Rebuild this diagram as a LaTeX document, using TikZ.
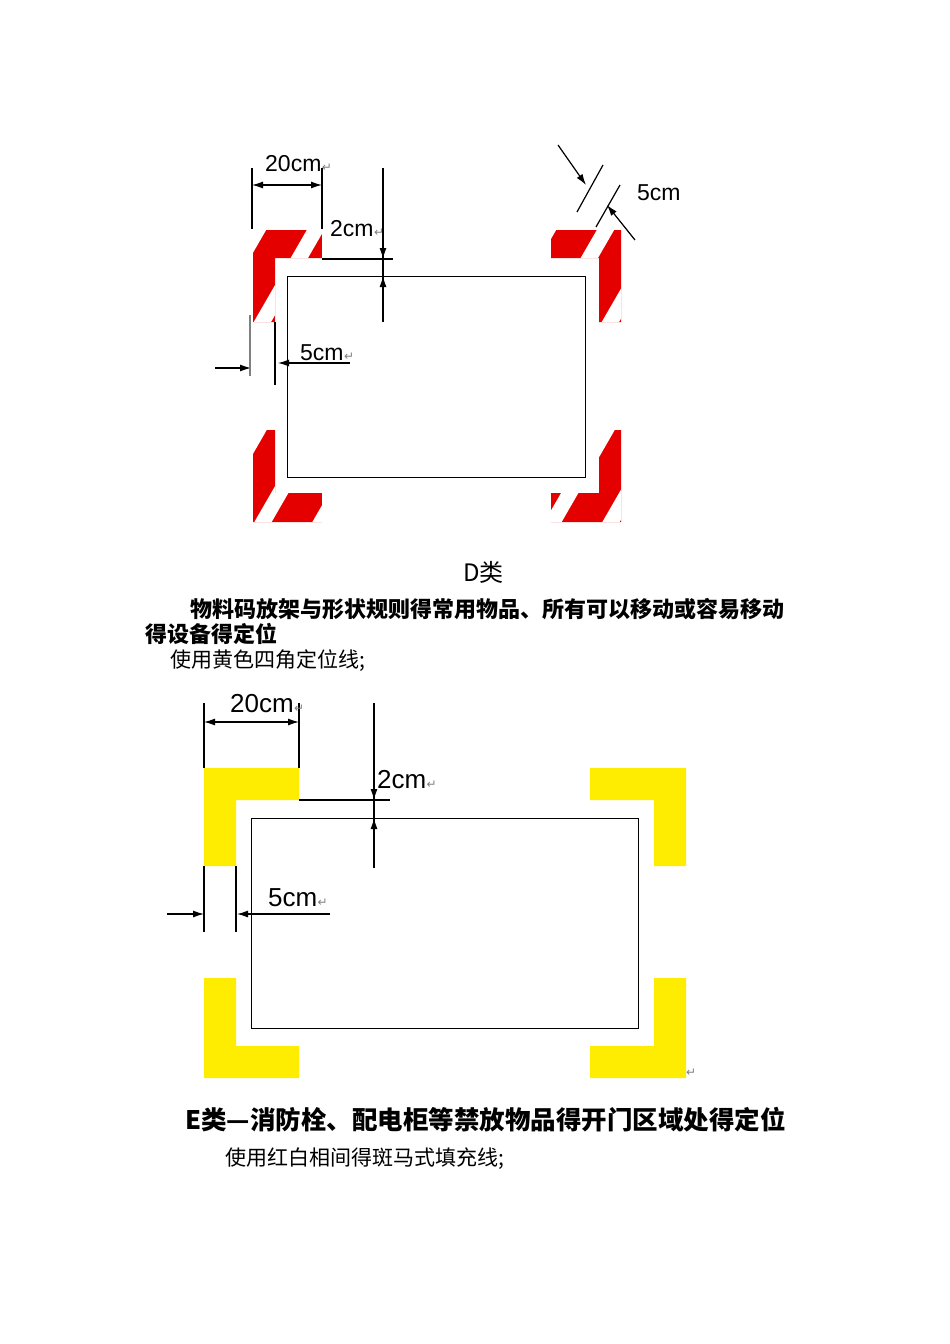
\documentclass[tikz,border=0pt]{standalone}
\usepackage{fontspec}
\usetikzlibrary{arrows.meta}
\newfontfamily\cjk{Noto Sans CJK SC}
\newfontfamily\dv{DejaVu Sans}
\setmainfont{Liberation Sans}
\begin{document}
\begin{tikzpicture}[x=1pt,y=-1pt,
  dim/.style={line width=1.2pt,-{Latex[length=11pt,width=7pt]}},
  dd/.style={line width=1.2pt,{Latex[length=11pt,width=7pt]}-{Latex[length=11pt,width=7pt]}},
  ln/.style={line width=1.2pt},
  lbl/.style={font=\fontsize{23}{24}\selectfont,inner sep=0pt,anchor=base west},
  rm/.style={font=\dv\fontsize{12}{12}\selectfont\color{gray},inner sep=0pt,anchor=base west},
  cn/.style={font=\cjk\fontsize{22}{24}\selectfont,inner sep=0pt,anchor=base west}]
\useasboundingbox (0,0) rectangle (950,1344);
% ---------- Top diagram: red/white striped corners
\def\stripes#1{%
  \begin{scope}
    \clip #1;
    \fill[red!90!black] #1;
    \foreach \k in {-420,-362,...,800} \draw[white,line width=15pt] (\k,600) -- ++(300,-520);
  \end{scope}}
\stripes{(253,230)--(322,230)--(322,258)--(275,258)--(275,322)--(253,322)--cycle}
\stripes{(551,230)--(621,230)--(621,322)--(599,322)--(599,258)--(551,258)--cycle}
\stripes{(253,430)--(275,430)--(275,493)--(322,493)--(322,522)--(253,522)--cycle}
\stripes{(599,430)--(621,430)--(621,522)--(551,522)--(551,493)--(599,493)--cycle}
\node[draw,line width=1.2pt,minimum width=298pt,minimum height=201pt,anchor=north west,inner sep=0pt] (r1) at (287,276) {};
% dims
\draw[ln] (252,168)--(252,229); \draw[ln] (322,168)--(322,229);
\draw[dd] (252,185)--(322,185);
\node[lbl] (t20) at (265,171) {20cm}; \node[rm] at (t20.base east) {↵};
\node[lbl] (t2) at (330,236) {2cm}; \node[rm] at (t2.base east) {↵};
\draw[ln] (383,168)--(383,322);
\draw[dim] (383,230)--(383,259);
\draw[dim] (383,305)--(383,276);
\draw[ln] (322,259)--(393,259);
\node[lbl] (t5) at (300,360) {5cm}; \node[rm] at (t5.base east) {↵};
\draw[dim] (350,363)--(278,363);
\draw[dim] (215,368)--(251,368);
\draw[line width=1.2pt,gray] (250,315)--(250,376);
\draw[ln] (275,322)--(275,385);
\draw[ln] (577,212)--(603,165);
\draw[ln] (596,227)--(620,185);
\draw[dim] (558,145)--(586,185);
\draw[dim] (635,240)--(607,205);
\node[lbl] (t5b) at (637,200) {5cm};
% texts
\node[cn,font=\cjk\fontsize{24}{26}\selectfont] at (463,581) {D类};
\node[cn,font=\cjk\bfseries\fontsize{22}{24}\selectfont] at (190,617) {物料码放架与形状规则得常用物品、所有可以移动或容易移动};
\node[cn,font=\cjk\bfseries\fontsize{22}{24}\selectfont] at (145,642) {得设备得定位};
\node[cn,font=\cjk\fontsize{21}{24}\selectfont] at (170,667) {使用黄色四角定位线;};
% ---------- Bottom diagram
\fill[yellow!95!orange] (204,768)--(299,768)--(299,800)--(236,800)--(236,866)--(204,866)--cycle;
\fill[yellow!95!orange] (590,768)--(686,768)--(686,866)--(654,866)--(654,800)--(590,800)--cycle;
\fill[yellow!95!orange] (204,978)--(236,978)--(236,1046)--(299,1046)--(299,1078)--(204,1078)--cycle;
\fill[yellow!95!orange] (654,978)--(686,978)--(686,1078)--(590,1078)--(590,1046)--(654,1046)--cycle;
\node[draw,line width=1.2pt,minimum width=387pt,minimum height=210pt,anchor=north west,inner sep=0pt] (r2) at (251,818) {};
\draw[ln] (204,703)--(204,768); \draw[ln] (299,703)--(299,768);
\draw[dd] (204,722)--(299,722);
\node[lbl,font=\fontsize{26}{28}\selectfont] (u20) at (230,712) {20cm}; \node[rm] at (u20.base east) {↵};
\draw[ln] (374,703)--(374,868);
\draw[dim] (374,770)--(374,800);
\draw[dim] (374,850)--(374,818);
\draw[ln] (299,800)--(390,800);
\node[lbl,font=\fontsize{26}{28}\selectfont] (u2) at (377,788) {2cm}; \node[rm] at (u2.base east) {↵};
\node[lbl,font=\fontsize{26}{28}\selectfont] (u5) at (268,906) {5cm}; \node[rm] at (u5.base east) {↵};
\draw[dim] (330,914)--(237,914);
\draw[dim] (167,914)--(204,914);
\draw[ln] (204,866)--(204,932); \draw[ln] (236,866)--(236,932);
\node[rm] at (686,1076) {↵};
\node[cn,font=\cjk\bfseries\fontsize{25.5}{28}\selectfont] at (185,1129) {E类—消防栓、配电柜等禁放物品得开门区域处得定位};
\node[cn,font=\cjk\fontsize{21}{24}\selectfont] at (225,1165) {使用红白相间得斑马式填充线;};
\end{tikzpicture}
\end{document}
